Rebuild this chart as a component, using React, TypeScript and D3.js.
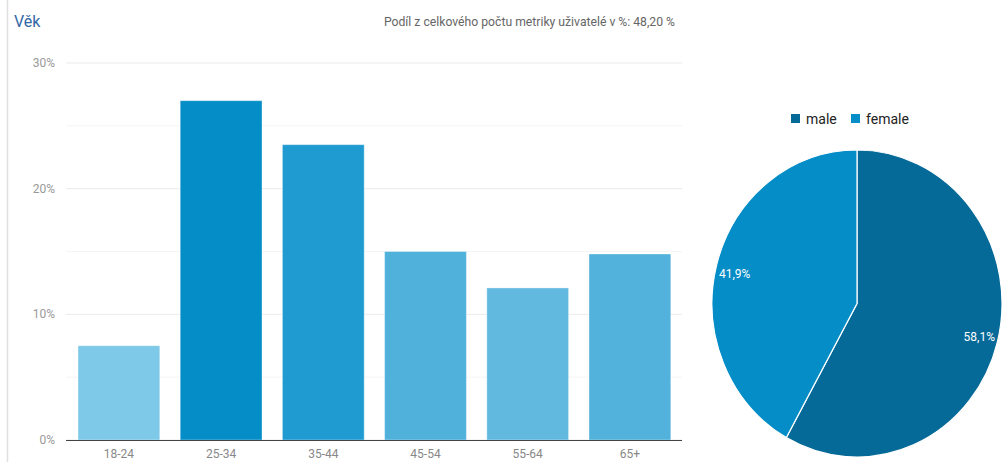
import React from "react";
import * as d3 from "d3";

const categories = ["18-24", "25-34", "35-44", "45-54", "55-64", "65+"];
const values = [7.5, 27.0, 23.5, 15.0, 12.1, 14.8];
const yTicks = [0, 10, 20, 30];
const gridTicks = [0, 5, 10, 15, 20, 25, 30];
const pieLabels = ["male", "female"];
const pieValues = [58.1, 41.9];
const pieText = ["58,1%", "41,9%"];

const barColors = ["#7ec8e8", "#058dc7", "#1f9bd1", "#50b1db", "#62b9df", "#52b2db"];
const pieColors = ["#066a98", "#058dc7"];

export default function App() {
  const W = 1002, H = 462;
  const x = d3.scaleBand().domain(categories).range([67.8, 681]).paddingInner(0.2).paddingOuter(0.1);
  const y = d3.scaleLinear().domain([0, 30]).range([440, 63]);
  const cx = 857, cy = 303.5, r = 145, sy = 153.5 / 145;
  const pie = d3.pie<number>().sort(null)(pieValues);
  const arc = d3.arc<d3.PieArcDatum<number>>().innerRadius(0).outerRadius(r);
  const font = "Roboto, Arial, sans-serif";
  return (
    <svg width={W} height={H} style={{ position: "absolute", left: 0, top: 0, fontFamily: font }}>
      <rect x={0} y={0} width={W} height={H} fill="#fff" />
      <line x1={7.5} x2={7.5} y1={0} y2={H} stroke="#e0e0e0" strokeWidth={1.5} />
      <text x={14} y={27} fill="#3367a6" fontSize={16}>Věk</text>
      <text x={675} y={26} fill="#666" fontSize={12.2} textAnchor="end">Podíl z celkového počtu metriky uživatelé v %: 48,20 %</text>
      {gridTicks.map(t => (
        <line key={t} x1={66} x2={682} y1={y(t)} y2={y(t)} stroke={t % 10 === 0 ? "#ebebeb" : "#f4f4f4"} strokeWidth={1} />
      ))}
      {yTicks.map(t => (
        <text key={t} x={55} y={y(t) + 4} fill="#999" fontSize={12} textAnchor="end">{t}%</text>
      ))}
      {categories.map((c, i) => (
        <rect key={c} x={x(c)!} y={y(values[i])} width={x.bandwidth()} height={y(0) - y(values[i])}
          fill={barColors[i]} stroke="#ffffff" strokeOpacity={0.35} strokeWidth={1} />
      ))}
      <line x1={66} x2={682} y1={440.5} y2={440.5} stroke="#444" strokeWidth={1} />
      {categories.map(c => (
        <text key={c} x={x(c)! + x.bandwidth() / 2} y={458} fill="#888" fontSize={12} textAnchor="middle">{c}</text>
      ))}
      <g transform={`translate(${cx},${cy}) scale(1,${sy})`}>
        {pie.map((p, i) => (
          <path key={i} d={arc(p)!} fill={pieColors[i]} stroke="#fff" strokeWidth={1.2} vectorEffect="non-scaling-stroke" />
        ))}
      </g>
      <text x={995} y={341} fill="#fff" fontSize={12} textAnchor="end">{pieText[0]}</text>
      <text x={719} y={278} fill="#fff" fontSize={12}>{pieText[1]}</text>
      {pieLabels.map((l, i) => (
        <g key={l} transform={`translate(${791 + i * 60},114)`}>
          <rect x={0} y={0} width={9} height={9} fill={pieColors[i]} />
          <text x={15} y={9.5} fill="#222" fontSize={14}>{l}</text>
        </g>
      ))}
    </svg>
  );
}
